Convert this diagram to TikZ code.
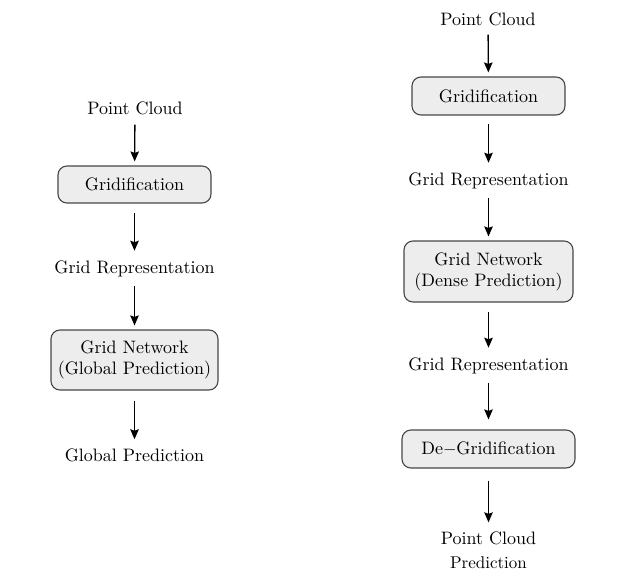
\documentclass[tikz,border=0pt]{standalone}
\usepackage{fontspec}
\setmainfont{lmroman10-regular.otf}
\usetikzlibrary{arrows.meta}
\begin{document}
\begin{tikzpicture}[x=1pt,y=-1pt,
  txt/.style={font=\fontsize{18}{21}\selectfont, inner sep=0pt, align=center},
  box/.style={txt, draw=black!72, fill=black!7, rounded corners=9pt, line width=1.1pt},
  arr/.style={-{Stealth[length=10pt,width=8.5pt,inset=1.5pt]}, line width=1.3pt}]
\useasboundingbox (0,0) rectangle (623,588);
% left column
\node[txt] (l1) at (135,108) {Point Cloud};
\node[box, minimum width=153pt, minimum height=37pt] (l2) at (134.5,184.5) {Gridification};
\node[txt] (l3) at (134.5,269) {Grid Representation};
\node[box, minimum width=167pt, minimum height=60pt] (l4) at (134.5,360) {Grid Network\\(Global Prediction)};
\node[txt] (l5) at (134.5,455) {Global Prediction};
\draw[arr, shorten <=10pt, shorten >=4pt] (l1) -- (l2);
\draw[arr, shorten <=9pt, shorten >=10pt] (l2) -- (l3);
\draw[arr, shorten <=9pt, shorten >=4pt] (l3) -- (l4);
\draw[arr, shorten <=10pt, shorten >=9pt] (l4) -- (l5);
% right column
\node[txt] (r1) at (488,19) {Point Cloud};
\node[box, minimum width=153pt, minimum height=38pt] (r2) at (488.5,96) {Gridification};
\node[txt] (r3) at (488.5,181) {Grid Representation};
\node[box, minimum width=169pt, minimum height=61pt] (r4) at (488.5,271.5) {Grid Network\\(Dense Prediction)};
\node[txt] (r5) at (488.5,366) {Grid Representation};
\node[box, minimum width=173pt, minimum height=38pt] (r6) at (488.5,449) {De$-$Gridification};
\node[txt] (r7) at (488.5,550) {Point Cloud\\[3pt]{\fontsize{17}{20}\selectfont Prediction}};
\draw[arr, shorten <=9pt, shorten >=4pt] (r1) -- (r2);
\draw[arr, shorten <=8pt, shorten >=10pt] (r2) -- (r3);
\draw[arr, shorten <=9pt, shorten >=4pt] (r3) -- (r4);
\draw[arr, shorten <=9pt, shorten >=10pt] (r4) -- (r5);
\draw[arr, shorten <=9pt, shorten >=10pt] (r5) -- (r6);
\draw[arr, shorten <=12pt, shorten >=9pt] (r6) -- (r7);
\end{tikzpicture}
\end{document}
